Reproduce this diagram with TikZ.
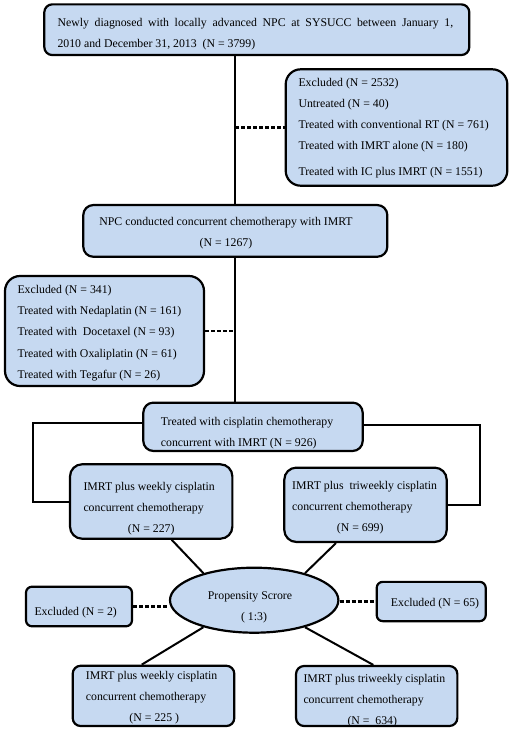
\documentclass[tikz,border=0pt]{standalone}
\usepackage{fontspec}
\setmainfont{Liberation Serif}
\usetikzlibrary{shapes.geometric,calc}
\definecolor{boxblue}{RGB}{198,217,241}
\newcommand\txtlines[2]{\parbox[t]{#1}{\raggedright\fontsize{11.8}{21.2}\selectfont #2}}
\newcommand\ctrlines[2]{\parbox[t]{#1}{\centering\fontsize{11.8}{21.2}\selectfont #2}}
\tikzset{
  box/.style={draw=black, line width=2.2pt, fill=boxblue, rectangle, rounded corners=#1, inner sep=0pt},
  box/.default=10pt,
  psell/.style={draw=black, line width=2.2pt, fill=boxblue, ellipse, inner sep=0pt},
  txt/.style={inner sep=0pt, anchor=base west},
  ctxt/.style={inner sep=0pt, anchor=base},
  conn/.style={line width=2pt},
  dashconn/.style={line width=2.2pt, dash pattern=on 4pt off 2pt},
}
\begin{document}
\begin{tikzpicture}[x=1pt, y=-1pt]
\useasboundingbox (0,0) rectangle (511,732);

% boxes
\node[box=8pt, minimum width=425pt, minimum height=50.7pt] (b1) at (256.8,29.7) {};
\node[box=15pt, minimum width=221.6pt, minimum height=116.4pt] (b2) at (396.5,127.5) {};
\node[box=10pt, minimum width=304pt, minimum height=51.7pt] (b3) at (235.3,230.9) {};
\node[box=15pt, minimum width=199pt, minimum height=110pt] (b4) at (104.5,331) {};
\node[box=10pt, minimum width=219.4pt, minimum height=48.3pt] (b5) at (253,426.8) {};
\node[box=12pt, minimum width=162.3pt, minimum height=74.4pt] (b6) at (151.2,501.5) {};
\node[box=12pt, minimum width=162.4pt, minimum height=74.3pt] (b7) at (365.5,504.8) {};
\node[psell, minimum width=168.4pt, minimum height=65pt] (ps) at (254.2,600.2) {};
\node[box=6pt, minimum width=106pt, minimum height=39.6pt] (e2) at (79,606.5) {};
\node[box=6pt, minimum width=109pt, minimum height=39.3pt] (e65) at (431.2,601.5) {};
\node[box=8pt, minimum width=161.6pt, minimum height=60.3pt] (b8) at (153.5,695.9) {};
\node[box=8pt, minimum width=161.3pt, minimum height=60pt] (b9) at (376.7,696) {};

% texts
\node[txt] (t1) at (57.3,26) {\txtlines{400pt}{\makebox[395.7pt][s]{Newly diagnosed with locally advanced NPC at SYSUCC between January 1,}\\ 2010 and December 31, 2013 \ (N = 3799)}};
\node[txt] (t2) at (298.3,86) {\txtlines{210pt}{Excluded (N = 2532)\\ Untreated (N = 40)\\ Treated with conventional RT (N = 761)\\ Treated with IMRT alone (N = 180)\\[4.5pt] Treated with IC plus IMRT (N = 1551)}};
\node[ctxt] (t3) at (226,225) {\ctrlines{300pt}{NPC conducted concurrent chemotherapy with IMRT\\ (N = 1267)}};
\node[txt] (t4) at (17.3,293.5) {\txtlines{190pt}{Excluded (N = 341)\\ Treated with Nedaplatin (N = 161)\\ Treated with \ Docetaxel (N = 93)\\ Treated with Oxaliplatin (N = 61)\\ Treated with Tegafur (N = 26)}};
\node[txt] (t5) at (160.7,425) {\txtlines{200pt}{Treated with cisplatin chemotherapy\\ concurrent with IMRT (N = 926)}};
\node[txt] (t6) at (83.3,490.5) {\txtlines{150pt}{IMRT plus weekly cisplatin\\ concurrent chemotherapy\\ \hspace*{44.4pt}(N = 227)}};
\node[txt] (t7) at (292,489.5) {\txtlines{155pt}{IMRT plus \ triweekly cisplatin\\ concurrent chemotherapy\\ \hspace*{44.7pt}(N = 699)}};
\node[ctxt] (tps) at (250,599) {\ctrlines{150pt}{Propensity Scrore\\ \hspace*{8pt}( 1:3)}};
\node[txt] (te2) at (34.3,615) {\txtlines{95pt}{Excluded (N = 2)}};
\node[txt] (te65) at (390.7,606) {\txtlines{95pt}{Excluded (N = 65)}};
\node[txt] (t8) at (85.7,679.5) {\txtlines{150pt}{IMRT plus weekly cisplatin\\ concurrent chemotherapy\\ \hspace*{43.6pt}(N = 225 )}};
\node[txt] (t9) at (303.3,682) {\txtlines{150pt}{IMRT plus triweekly cisplatin\\ concurrent chemotherapy\\ \hspace*{44pt}(N = \ 634)}};

% connectors
\draw[conn] (b3.north |- b1.south) -- (b3.north);
\draw[dashconn] (b2.west -| b3.north) -- (b2.west);
\draw[conn] (b3.south) -- (b3.south |- b5.north);
\draw[dashconn] (b4.east) -- (b4.east -| b3.south);
\coordinate (cL) at (32.7,0);
\coordinate (cR) at (480,0);
\draw[conn] ([yshift=4pt]b5.west) -| (cL |- b6.west) -- (b6.west);
\draw[conn] ([yshift=1.5pt]b5.east) -| (cR |- b7.east) -- (b7.east);
\draw[conn] ([xshift=20.5pt]b6.south) -- (ps.152);
\draw[conn] ([xshift=-29.5pt]b7.south) -- (ps.28);
\draw[dashconn] (e2.east) -- (e2.east -| ps.west);
\draw[dashconn] (e65.west -| ps.east) -- (e65.west);
\draw[conn] (ps.208) -- ([xshift=-11.8pt]b8.north);
\draw[conn] (ps.332) -- ([xshift=-3.4pt]b9.north);
\end{tikzpicture}
\end{document}
